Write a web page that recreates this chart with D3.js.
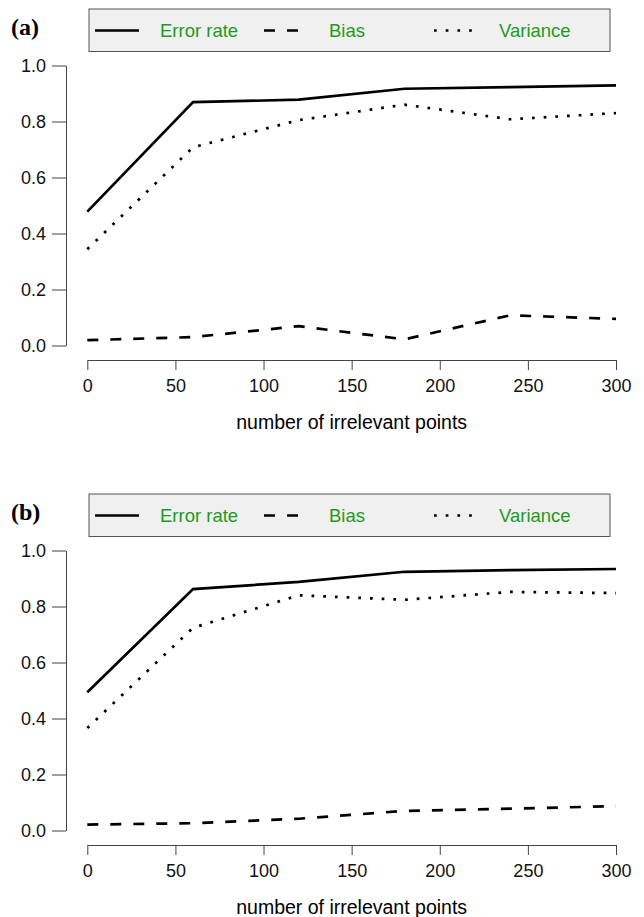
<!DOCTYPE html>
<html lang="en">
<head>
<meta charset="UTF-8">
<title>error rate, bias and variance</title>
<style>
	body { margin: 0; background: #fff; }
	svg text { font-family: "Liberation Sans", Arial, sans-serif; }
</style>
</head>
<body>
<svg id="chart" width="644" height="917"></svg>
<script src="https://cdn.jsdelivr.net/npm/d3@7"></script>
<script>
	// values
	const xPoints = [0, 60, 120, 180, 240, 300];
	const errorA = [0.478, 0.869, 0.878, 0.917, 0.923, 0.929];
	const biasA = [0.019, 0.030, 0.069, 0.022, 0.108, 0.095];
	const varianceA = [0.344, 0.708, 0.805, 0.860, 0.808, 0.830];
	const errorB = [0.494, 0.862, 0.888, 0.924, 0.930, 0.934];
	const biasB = [0.021, 0.026, 0.042, 0.070, 0.078, 0.087];
	const varianceB = [0.366, 0.724, 0.840, 0.824, 0.852, 0.848];
	const seriesNames = ["Error rate", "Bias", "Variance"];
	const xTicks = [0, 50, 100, 150, 200, 250, 300];
	const yTicks = [0, 0.2, 0.4, 0.6, 0.8, 1.0];
	const panelLabels = ["(a)", "(b)"];
	const xTitle = "number of irrelevant points";

	const svg = d3.select("#chart");
	const green = "#1f9a1f";
	const lw = 2.7;
	const dashes = [null, "11 12", "2.7 9"];

	let x = d3.scaleLinear().domain([0, 300]).range([87.3, 616]);

	function drawPanel(top, label, series)
	{
		let g = svg.append("g");
		let y = d3.scaleLinear().domain([0, 1]).range([top + 280, top]);

		// legend box
		let lg = g.append("g").attr("transform", "translate(0," + (top - 56.5) + ")");
		lg.append("rect")
			.attr("x", 89).attr("y", 0)
			.attr("width", 521).attr("height", 42.5)
			.attr("fill", "#f0f0f0")
			.attr("stroke", "#555").attr("stroke-width", 1);
		let lx = [95, 264, 434];
		seriesNames.forEach((name, i) => {
			lg.append("line")
				.attr("x1", lx[i]).attr("x2", lx[i] + 44)
				.attr("y1", 21.5).attr("y2", 21.5)
				.attr("stroke", "#000").attr("stroke-width", lw)
				.attr("stroke-dasharray", dashes[i]);
			lg.append("text")
				.attr("x", lx[i] + 65).attr("y", 21.5)
				.attr("dy", "0.35em")
				.attr("fill", green)
				.attr("font-size", 18.5)
				.text(name);
		});

		g.append("text")
			.attr("x", 11).attr("y", top - 38.5)
			.attr("dy", "0.35em")
			.attr("font-size", 24).attr("font-weight", "bold")
			.style("font-family", "'Liberation Serif', 'Times New Roman', serif")
			.text(label);

		// axes
		let yAxis = g.append("g")
			.attr("transform", "translate(66,0)")
			.call(d3.axisLeft(y).tickValues(yTicks).tickFormat(d3.format(".1f"))
				.tickSize(14).tickSizeOuter(0).tickPadding(6));
		let xAxis = g.append("g")
			.attr("transform", "translate(0," + (top + 294.5) + ")")
			.call(d3.axisBottom(x).tickValues(xTicks).tickFormat(d3.format("d"))
				.tickSize(10).tickSizeOuter(0).tickPadding(9));
		[yAxis, xAxis].forEach(a => {
			a.selectAll("path, line").attr("stroke", "#444").attr("stroke-width", 1);
			a.selectAll("text").attr("font-size", 18).attr("fill", "#111")
				.style("font-family", "'Liberation Sans', Arial, sans-serif");
		});

		g.append("text")
			.attr("x", (x(0) + x(300)) / 2)
			.attr("y", top + 356.5)
			.attr("dy", "0.35em")
			.attr("text-anchor", "middle")
			.attr("font-size", 19.5)
			.text(xTitle);

		// lines
		let line = d3.line()
			.x((d, i) => x(xPoints[i]))
			.y(d => y(d));
		series.forEach((vals, i) => {
			g.append("path")
				.attr("d", line(vals))
				.attr("fill", "none")
				.attr("stroke", "#000")
				.attr("stroke-width", lw)
				.attr("stroke-dasharray", dashes[i]);
		});
	}

	drawPanel(65.5, panelLabels[0], [errorA, biasA, varianceA]);
	drawPanel(550.5, panelLabels[1], [errorB, biasB, varianceB]);
</script>
</body>
</html>
